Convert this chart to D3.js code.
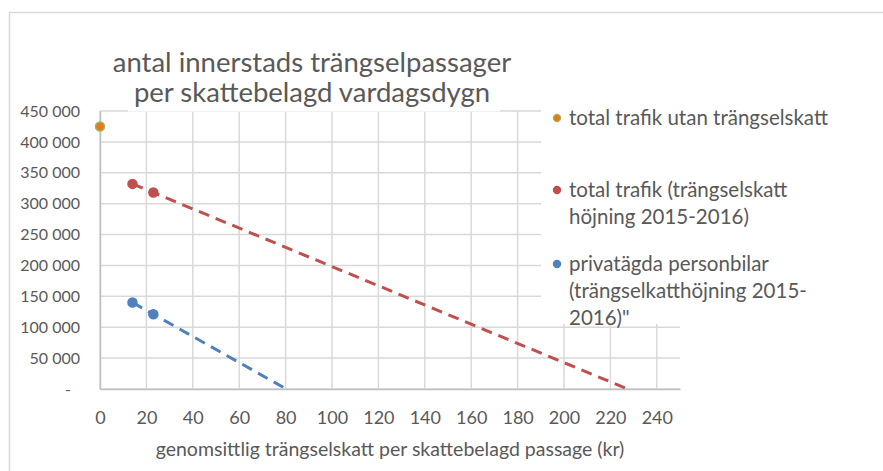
<!DOCTYPE html>
<html>
<head>
<meta charset="utf-8">
<script src="https://cdn.jsdelivr.net/npm/d3@7"></script>
<style>
  html, body { margin: 0; padding: 0; background: #fff; }
  svg { display: block; font-family: Lato, "Open Sans", sans-serif; }
</style>
</head>
<body>
<svg id="chart" width="883" height="471"></svg>
<script>
// Average congestion tax per taxed passage (kr) and inner-city passages per taxed weekday
const xTicks = [0, 20, 40, 60, 80, 100, 120, 140, 160, 180, 200, 220, 240];
const yTicks = [0, 50000, 100000, 150000, 200000, 250000, 300000, 350000, 400000, 450000];

const noTaxTax = [0];
const noTaxPassages = [425000];

const totalTax = [14, 23];
const totalPassages = [332000, 318000];

const privateTax = [14, 23];
const privatePassages = [140000, 121000];

const titleLines = ["antal innerstads trängselpassager", "per skattebelagd vardagsdygn"];
const xTitle = "genomsittlig trängselskatt per skattebelagd passage (kr)";

const series = [
  { name: ["total trafik utan trängselskatt"], x: noTaxTax, y: noTaxPassages,
    fill: "#E87722", stroke: "#9BBB59", trend: false },
  { name: ["total trafik (trängselskatt", "höjning 2015-2016)"], x: totalTax, y: totalPassages,
    fill: "#C0504D", stroke: "#C0504D", trend: true },
  { name: ["privatägda personbilar", "(trängselkatthöjning 2015-", "2016)\""], x: privateTax, y: privatePassages,
    fill: "#4F81BD", stroke: "#4F81BD", trend: true }
];

const svg = d3.select("#chart");
const textColor = "#595959";
const gridColor = "#D9D9D9";

// outer chart frame
svg.append("rect")
  .attr("x", 9.5).attr("y", 12.5)
  .attr("width", 1000).attr("height", 1000)
  .attr("fill", "#fff").attr("stroke", "#D9D9D9").attr("stroke-width", 1.5);

const plot = { left: 100, right: 680, top: 111, bottom: 389 };

const x = d3.scaleLinear().domain([0, 250]).range([plot.left, plot.right]);
const y = d3.scaleLinear().domain([0, 450000]).range([plot.bottom, plot.top]);

// grid
const grid = svg.append("g");
grid.selectAll("line.h").data(yTicks).join("line")
  .attr("class", "h")
  .attr("x1", plot.left).attr("x2", plot.right)
  .attr("y1", d => y(d)).attr("y2", d => y(d))
  .attr("stroke", gridColor).attr("stroke-width", 1.5);
grid.selectAll("line.v").data(xTicks).join("line")
  .attr("class", "v")
  .attr("x1", d => x(d)).attr("x2", d => x(d))
  .attr("y1", plot.top).attr("y2", plot.bottom)
  .attr("stroke", gridColor).attr("stroke-width", 1.5);

// axes
const fmt = v => v === 0 ? "-" : d3.format(",")(v).replace(/,/g, " ");
const yAxis = svg.append("g")
  .attr("transform", `translate(${plot.left},0)`)
  .call(d3.axisLeft(y).tickValues(yTicks).tickFormat(fmt).tickSize(0).tickPadding(20));
yAxis.select(".domain").attr("stroke", "#BFBFBF").attr("stroke-width", 1.5);
yAxis.selectAll("text")
  .attr("fill", textColor).style("font-size", "16px").style("font-family", "Lato")
  .attr("dx", d => d === 0 ? -9 : 0);

const xAxis = svg.append("g")
  .attr("transform", `translate(0,${plot.bottom})`)
  .call(d3.axisBottom(x).tickValues(xTicks).tickSize(0).tickPadding(22));
xAxis.select(".domain").attr("stroke", "#BFBFBF").attr("stroke-width", 1.5);
xAxis.selectAll("text")
  .attr("fill", textColor).style("font-size", "18px").style("font-family", "Lato");

svg.append("text")
  .attr("x", (plot.left + plot.right) / 2).attr("y", 456)
  .attr("text-anchor", "middle").attr("fill", textColor)
  .style("font-size", "19.5px")
  .text(xTitle);

// trend lines, extended forward to where the fitted line reaches zero
const trendG = svg.append("g");
series.filter(s => s.trend).forEach(s => {
  const mx = d3.mean(s.x), my = d3.mean(s.y);
  const slope = d3.sum(s.x, (v, i) => (v - mx) * (s.y[i] - my)) / d3.sum(s.x, v => (v - mx) * (v - mx));
  const icpt = my - slope * mx;
  const x0 = d3.min(s.x);
  const x1 = -icpt / slope;
  trendG.append("line")
    .attr("x1", x(x0)).attr("y1", y(icpt + slope * x0))
    .attr("x2", x(x1)).attr("y2", y(0))
    .attr("stroke", s.stroke).attr("stroke-width", 3)
    .attr("stroke-dasharray", "11,7");
});

// points
const pts = svg.append("g");
series.forEach(s => {
  pts.selectAll(null).data(s.x.map((v, i) => [v, s.y[i]])).join("circle")
    .attr("cx", d => x(d[0])).attr("cy", d => y(d[1]))
    .attr("r", 4.5)
    .attr("fill", s.fill).attr("stroke", s.stroke).attr("stroke-width", 1.5);
});

// title (with its own background)
svg.append("rect")
  .attr("x", 128).attr("y", 30).attr("width", 372).attr("height", 81.5)
  .attr("fill", "#fff");
const title = svg.append("text")
  .attr("text-anchor", "middle").attr("fill", textColor)
  .style("font-size", "27.5px");
titleLines.forEach((t, i) => {
  title.append("tspan").attr("x", 312).attr("y", 72 + i * 30).text(t);
});

// legend
const legend = svg.append("g");
legend.append("rect")
  .attr("x", 541).attr("y", 104).attr("width", 340).attr("height", 220)
  .attr("fill", "#fff");
const legendTop = [118, 190, 264];
series.forEach((s, i) => {
  legend.append("circle")
    .attr("cx", 557).attr("cy", legendTop[i])
    .attr("r", 3.6)
    .attr("fill", s.fill).attr("stroke", s.stroke).attr("stroke-width", 1.2);
  const t = legend.append("text").attr("fill", textColor).style("font-size", "20.5px");
  s.name.forEach((line, j) => {
    t.append("tspan").attr("x", 569).attr("y", legendTop[i] + 7 + j * 27).text(line);
  });
});
</script>
</body>
</html>
